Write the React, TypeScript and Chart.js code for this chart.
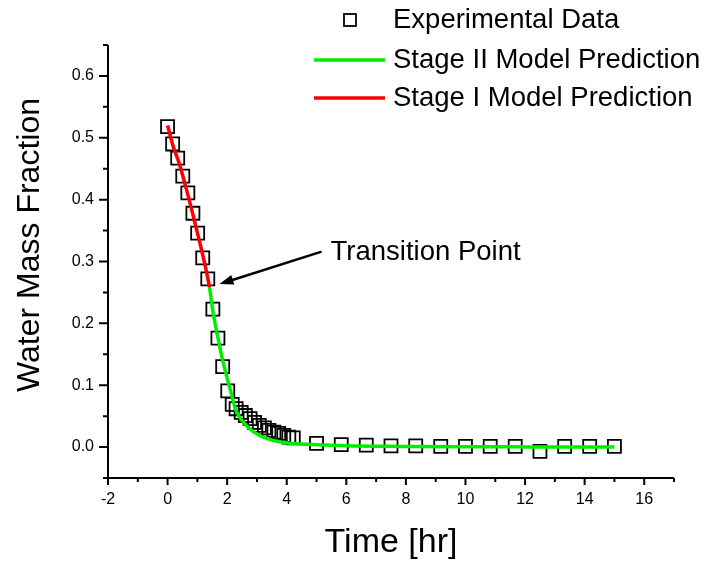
import React, { useEffect, useRef } from 'react';
import { Chart, registerables } from 'chart.js';

Chart.register(...registerables);

const FONT = "'Liberation Sans', Arial, Helvetica, sans-serif";

// Experimental data (time in hr, water mass fraction)
const expTime = [0, 0.17, 0.34, 0.51, 0.68, 0.85, 1.01, 1.18, 1.35, 1.52, 1.69, 1.85, 2.02, 2.17, 2.3, 2.47, 2.61, 2.77, 2.92, 3.08, 3.25, 3.4, 3.57, 3.73, 3.9, 4.07, 4.22, 5.0, 5.83, 6.67, 7.5, 8.33, 9.17, 10.0, 10.83, 11.67, 12.5, 13.33, 14.17, 15.0];
const expWater = [0.518, 0.49, 0.467, 0.438, 0.411, 0.378, 0.346, 0.306, 0.272, 0.223, 0.176, 0.13, 0.091, 0.069, 0.062, 0.056, 0.051, 0.046, 0.04, 0.035, 0.031, 0.027, 0.024, 0.022, 0.019, 0.016, 0.015, 0.006, 0.004, 0.003, 0.002, 0.002, 0.001, 0.001, 0.001, 0.001, -0.007, 0.001, 0.001, 0.001];

// Stage I model prediction
const stage1Time = [0, 0.17, 0.4, 0.62, 0.85, 1.07, 1.3, 1.41];
const stage1Water = [0.52, 0.489, 0.457, 0.419, 0.376, 0.333, 0.285, 0.258];

// Stage II model prediction
const stage2Time = [1.41, 1.52, 1.69, 1.85, 2.08, 2.3, 2.64, 3.08, 3.53, 4.09, 4.87, 6.0, 8.0, 10.0, 12.0, 15.0];
const stage2Water = [0.258, 0.22, 0.177, 0.14, 0.097, 0.059, 0.035, 0.019, 0.011, 0.006, 0.004, 0.002, 0.001, 0.0005, 0.0003, 0.0];

const legendLabels = ['Experimental Data', 'Stage II Model Prediction', 'Stage I Model Prediction'];
const annotationText = 'Transition Point';
const arrowTip = { x: 1.74, y: 0.2635 };
const arrowTail = { x: 5.17, y: 0.316 };
const annotationAnchor = { x: 5.47, y: 0.314 };

const xTitle = 'Time [hr]';
const yTitle = 'Water Mass Fraction';

const toPoints = (xs: number[], ys: number[]) => xs.map((x, i) => ({ x, y: ys[i] }));

const originPlugin = {
  id: 'originStyle',
  afterDraw(chart: any) {
    const { ctx, chartArea: a } = chart;
    const xs = chart.scales.x;
    const ys = chart.scales.y;
    ctx.save();
    ctx.strokeStyle = '#000';
    ctx.fillStyle = '#000';
    ctx.lineWidth = 2;
    ctx.lineCap = 'butt';
    // axis lines
    ctx.beginPath();
    ctx.moveTo(a.left, a.top);
    ctx.lineTo(a.left, a.bottom + 1);
    ctx.moveTo(a.left - 1, a.bottom);
    ctx.lineTo(a.right, a.bottom);
    ctx.stroke();
    // ticks
    ctx.beginPath();
    for (const t of ys.ticks) {
      const p = ys.getPixelForValue(t.value);
      const major = Math.round(t.value * 20) % 2 === 0;
      ctx.moveTo(a.left, p);
      ctx.lineTo(a.left - (major ? 9 : 5), p);
    }
    for (const t of xs.ticks) {
      const p = xs.getPixelForValue(t.value);
      const major = Math.round(t.value) % 2 === 0;
      ctx.moveTo(p, a.bottom);
      ctx.lineTo(p, a.bottom + (major ? 7 : 4));
    }
    ctx.stroke();

    // y axis title
    ctx.save();
    ctx.translate(30, 245);
    ctx.rotate(-Math.PI / 2);
    ctx.font = `32px ${FONT}`;
    ctx.textAlign = 'center';
    ctx.textBaseline = 'middle';
    ctx.fillText(yTitle, 0, 0);
    ctx.restore();

    // arrow annotation
    const tx = xs.getPixelForValue(arrowTip.x);
    const ty = ys.getPixelForValue(arrowTip.y);
    const sx = xs.getPixelForValue(arrowTail.x);
    const sy = ys.getPixelForValue(arrowTail.y);
    const ang = Math.atan2(ty - sy, tx - sx);
    const headLen = 14;
    const headW = 5;
    const bx = tx - headLen * Math.cos(ang);
    const by = ty - headLen * Math.sin(ang);
    ctx.lineWidth = 2.5;
    ctx.beginPath();
    ctx.moveTo(sx, sy);
    ctx.lineTo(bx + 2 * Math.cos(ang), by + 2 * Math.sin(ang));
    ctx.stroke();
    ctx.beginPath();
    ctx.moveTo(tx, ty);
    ctx.lineTo(bx - headW * Math.sin(ang), by + headW * Math.cos(ang));
    ctx.lineTo(bx + headW * Math.sin(ang), by - headW * Math.cos(ang));
    ctx.closePath();
    ctx.fill();

    ctx.font = `27.5px ${FONT}`;
    ctx.textAlign = 'left';
    ctx.textBaseline = 'middle';
    ctx.fillText(annotationText, xs.getPixelForValue(annotationAnchor.x), ys.getPixelForValue(annotationAnchor.y));

    // legend
    const ds = chart.data.datasets;
    const rows = [20, 60, 98];
    const textX = 393;
    ctx.font = `27.5px ${FONT}`;
    rows.forEach((ry, i) => {
      const d = ds[i];
      if (d.showLine === false) {
        ctx.strokeStyle = d.pointBorderColor;
        ctx.lineWidth = 1.8;
        ctx.strokeRect(344, ry - 6, 12, 12);
      } else {
        ctx.strokeStyle = d.borderColor;
        ctx.lineWidth = d.borderWidth;
        ctx.beginPath();
        ctx.moveTo(314, ry);
        ctx.lineTo(385, ry);
        ctx.stroke();
      }
      ctx.fillStyle = '#000';
      ctx.fillText(legendLabels[i], textX, ry);
    });
    ctx.restore();
  },
};

export default function App() {
  const ref = useRef<HTMLCanvasElement | null>(null);
  useEffect(() => {
    if (!ref.current) return;
    const chart = new Chart(ref.current, {
      type: 'scatter',
      data: {
        datasets: [
          {
            label: legendLabels[0],
            data: toPoints(expTime, expWater),
            showLine: false,
            pointStyle: 'rect',
            pointRadius: 9.2,
            pointHoverRadius: 9.2,
            pointBorderWidth: 1.8,
            pointBorderColor: '#000',
            pointBackgroundColor: 'rgba(0,0,0,0)',
            order: 3,
          },
          {
            label: legendLabels[1],
            data: toPoints(stage2Time, stage2Water),
            showLine: true,
            borderColor: '#00ee00',
            borderWidth: 3.5,
            pointRadius: 0,
            cubicInterpolationMode: 'monotone',
            order: 2,
          },
          {
            label: legendLabels[2],
            data: toPoints(stage1Time, stage1Water),
            showLine: true,
            borderColor: '#ff0000',
            borderWidth: 3.5,
            pointRadius: 0,
            cubicInterpolationMode: 'monotone',
            order: 1,
          },
        ],
      } as any,
      options: {
        responsive: false,
        animation: false,
        events: [],
        layout: { padding: { top: 45, right: 32, left: 0, bottom: 0 } },
        plugins: { legend: { display: false }, tooltip: { enabled: false } },
        scales: {
          x: {
            type: 'linear',
            min: -2,
            max: 17,
            grid: { display: false, drawTicks: false },
            border: { display: false },
            afterFit: (s: any) => { s.height = 87; },
            ticks: {
              stepSize: 1,
              autoSkip: false,
              maxRotation: 0,
              padding: 12,
              color: '#000',
              font: { family: FONT, size: 16 },
              callback: (v: any) => (Math.round(v) % 2 === 0 ? String(Math.round(v)) : ''),
            },
            title: {
              display: true,
              text: xTitle,
              color: '#000',
              font: { family: FONT, size: 34 },
              padding: { top: 0, bottom: 2 },
            },
          },
          y: {
            type: 'linear',
            min: -0.05,
            max: 0.65,
            grid: { display: false, drawTicks: false },
            border: { display: false },
            afterFit: (s: any) => { s.width = 108; },
            ticks: {
              stepSize: 0.05,
              autoSkip: false,
              padding: 14,
              color: '#000',
              font: { family: FONT, size: 16 },
              callback: (v: any) => {
                const k = Math.round(v * 20);
                if (k % 2 !== 0 || k < 0) return '';
                return (Math.round(v * 10) / 10).toFixed(1);
              },
            },
            title: { display: false },
          },
        },
      },
      plugins: [originPlugin],
    } as any);
    return () => chart.destroy();
  }, []);
  return (
    <div style={{ position: 'fixed', left: 0, top: 0, width: 706, height: 565, background: '#fff' }}>
      <canvas ref={ref} width={706} height={565} style={{ display: 'block' }} />
    </div>
  );
}
